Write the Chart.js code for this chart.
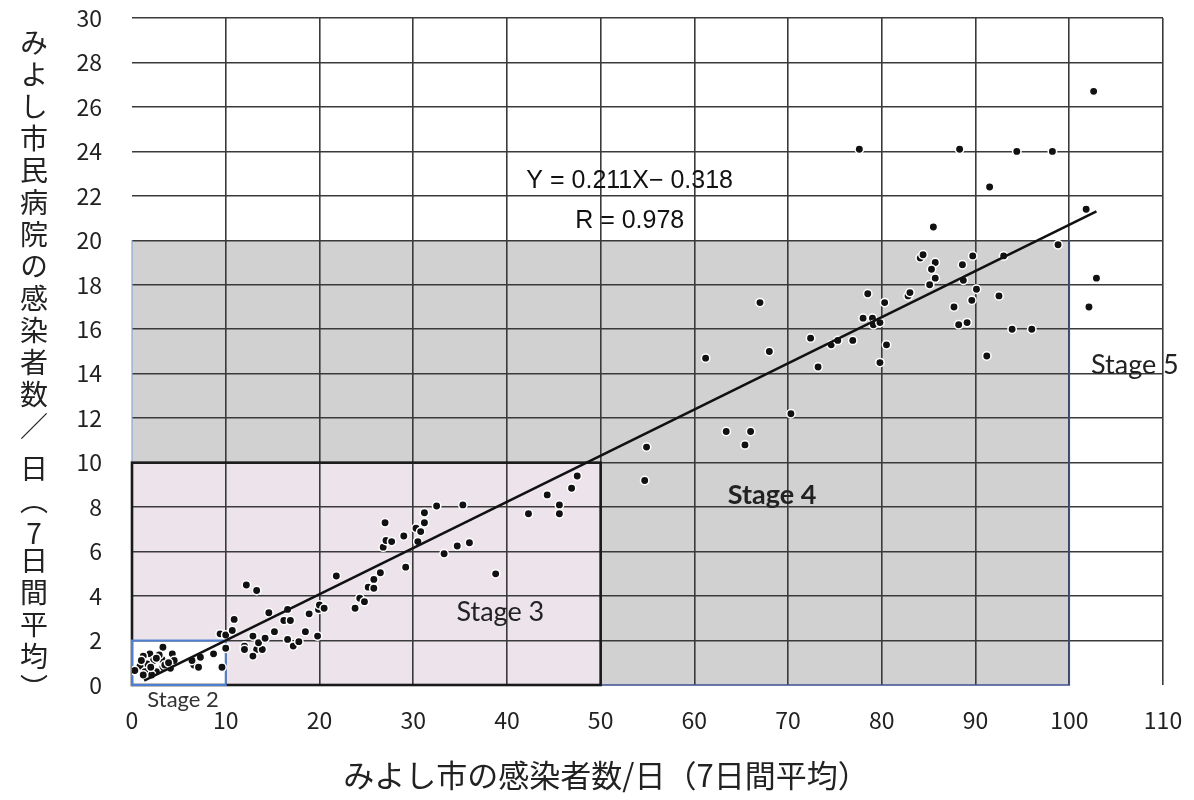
<!DOCTYPE html>
<html lang="ja">
<head>
<meta charset="utf-8">
<title>みよし市 感染者数 相関</title>
<script src="https://cdn.jsdelivr.net/npm/chart.js@4.4.1/dist/chart.umd.min.js"></script>
<style>
  body { margin: 0; background: #fff; }
  #wrap { position: relative; width: 1194px; height: 800px; }
  #yTitle {
    position: absolute; left: 20px; top: 28px;
    writing-mode: vertical-rl; text-orientation: mixed;
    font-family: "Noto Sans CJK JP", sans-serif; font-size: 28px;
    letter-spacing: 4px; color: #222; line-height: 1;
  }
  #yTitle .up { text-combine-upright: all; }
</style>
</head>
<body>
<div id="wrap">
  <canvas id="stageChart"></canvas>
  <div id="yTitle">みよし市民病院の感染者数／ 日（<span class="up">7</span>日間平均）</div>
</div>
<script>
// みよし市の感染者数/日 (x) と みよし市民病院の感染者数/日 (y)
const cityCases = [
  3.3, 1.9, 1.2, 2.3, 3.2, 4.3, 4.5, 1.6, 0.85, 3.3, 4.1, 0.3, 1.4, 2.6, 2.1, 3.5, 2.9, 1.2, 2.6, 3.9, 1.0, 2.0,
  6.6, 7.1, 6.4, 7.3, 8.7, 9.6, 9.4, 10.0, 10.0,
  10.9, 10.7, 12.2, 13.3, 12.9, 12.0, 12.0, 13.3, 13.9, 12.9, 13.5, 14.2, 14.6, 15.2, 16.2, 16.9, 16.6, 16.6,
  17.2, 17.8, 18.5, 18.9, 19.8, 19.9, 20.0, 20.5, 21.8,
  23.8, 24.3, 24.8, 25.2, 25.8, 25.8, 26.5, 26.8, 27.1, 27.7, 27.0, 29.0, 29.2, 30.3, 30.5, 30.8, 31.2, 31.2,
  32.5, 33.3, 34.7, 35.3, 36.0, 38.8, 42.3, 44.3, 45.6, 45.6, 46.9, 47.5,
  54.9, 54.7, 61.2, 63.4, 66.0, 65.4, 67.0, 68.0, 70.3, 72.4, 73.2, 74.6, 75.3, 76.9,
  77.6, 88.3, 94.4, 98.2, 91.5, 101.8, 85.5, 98.8, 102.9, 102.1, 84.1, 84.4, 85.7, 85.3, 85.7, 85.1, 88.6, 89.7,
  93.0, 88.7, 90.1, 89.6, 92.5, 87.7, 88.2, 89.1, 93.9, 96.0, 91.2, 78.5, 82.8, 83.0, 80.3, 78.0, 79.0, 79.1,
  79.8, 80.5, 79.8, 102.6
];
const hospitalCases = [
  1.7, 1.4, 1.3, 1.1, 1.15, 1.4, 1.1, 0.95, 0.85, 0.8, 0.75, 0.65, 0.6, 0.6, 0.45, 0.9, 1.35, 0.45, 1.2, 1.0, 1.1, 0.8,
  0.9, 0.8, 1.1, 1.25, 1.4, 0.8, 2.3, 1.65, 2.25,
  2.95, 2.45, 4.5, 4.25, 2.2, 1.75, 1.6, 1.6, 1.6, 1.3, 1.9, 2.1, 3.25, 2.4, 2.9, 2.9, 3.4, 2.05,
  1.75, 1.95, 2.4, 3.2, 2.2, 3.4, 3.6, 3.45, 4.9,
  3.45, 3.9, 3.75, 4.4, 4.35, 4.75, 5.05, 6.2, 6.5, 6.45, 7.3, 6.7, 5.3, 7.05, 6.45, 6.9, 7.3, 7.75,
  8.05, 5.9, 6.25, 8.1, 6.4, 5.0, 7.7, 8.55, 8.1, 7.7, 8.85, 9.4,
  10.7, 9.2, 14.7, 11.4, 11.4, 10.8, 17.2, 15.0, 12.2, 15.6, 14.3, 15.3, 15.5, 15.5,
  24.1, 24.1, 24.0, 24.0, 22.4, 21.4, 20.6, 19.8, 18.3, 17.0, 19.2, 19.35, 19.0, 18.7, 18.3, 18.0, 18.9, 19.3,
  19.3, 18.2, 17.8, 17.3, 17.5, 17.0, 16.2, 16.3, 16.0, 16.0, 14.8, 17.6, 17.5, 17.65, 17.2, 16.5, 16.5, 16.2,
  16.3, 15.3, 14.5, 26.7
];

// 回帰直線 Y = 0.211X - 0.318 (端点は図から読み取り)
const trendX = [1.3, 102.9];
const trendY = [0.2, 21.3];

// ステージ区分の上限 (Stage 2, 3, 4)
const stageNames = ['Stage 2', 'Stage 3', 'Stage 4', 'Stage 5'];
const stageMaxX = [10, 50, 100];
const stageMaxY = [2, 10, 20];

const xTicks = [0, 10, 20, 30, 40, 50, 60, 70, 80, 90, 100, 110];
const yTicks = [0, 2, 4, 6, 8, 10, 12, 14, 16, 18, 20, 22, 24, 26, 28, 30];

const xTitle = 'みよし市の感染者数/日（7日間平均）';
const equationText = 'Y = 0.211X\u2212 0.318';
const corrText = 'R = 0.978';

document.addEventListener('DOMContentLoaded', function () {
    const ctx = document.getElementById('stageChart');
    if (!ctx) return;

    const rectOf = (chart, x1, y1) => {
        const { x, y } = chart.scales;
        const left = x.getPixelForValue(0), right = x.getPixelForValue(x1);
        const top = y.getPixelForValue(y1), bottom = y.getPixelForValue(0);
        return { left, right, top, bottom, w: right - left, h: bottom - top };
    };

    const stageZones = {
        id: 'stageZones',
        beforeDraw(chart) {
            const c = chart.ctx;
            const g = rectOf(chart, stageMaxX[2], stageMaxY[2]);
            const p = rectOf(chart, stageMaxX[1], stageMaxY[1]);
            const s = rectOf(chart, stageMaxX[0], stageMaxY[0]);
            c.save();
            c.fillStyle = '#d1d1d1';
            c.fillRect(g.left, g.top, g.w, g.h);
            c.fillStyle = '#ece4ea';
            c.fillRect(p.left, p.top, p.w, p.h);
            c.fillStyle = '#ffffff';
            c.fillRect(s.left, s.top, s.w, s.h);
            c.restore();
        },
        beforeDatasetsDraw(chart) {
            const c = chart.ctx;
            const g = rectOf(chart, stageMaxX[2], stageMaxY[2]);
            const p = rectOf(chart, stageMaxX[1], stageMaxY[1]);
            const s = rectOf(chart, stageMaxX[0], stageMaxY[0]);
            c.save();
            // Stage 4 outline (blue right / bottom edges)
            c.strokeStyle = '#3d4f93';
            c.lineWidth = 1.6;
            c.beginPath();
            c.moveTo(g.right, g.top);
            c.lineTo(g.right, g.bottom);
            c.lineTo(g.left, g.bottom);
            c.stroke();
            c.strokeStyle = '#8ea6da';
            c.lineWidth = 1.2;
            c.beginPath();
            c.moveTo(g.left, g.bottom);
            c.lineTo(g.left, g.top);
            c.stroke();
            // Stage 3 outline
            c.strokeStyle = '#1a1a1a';
            c.lineWidth = 2.6;
            c.strokeRect(p.left, p.top, p.w, p.h);
            // Stage 2 outline
            c.strokeStyle = '#4f7fd0';
            c.lineWidth = 2;
            c.strokeRect(s.left, s.top, s.w, s.h);
            c.restore();
        },
        afterDraw(chart) {
            const c = chart.ctx;
            const { x, y } = chart.scales;
            const put = (text, vx, vy, font, color) => {
                c.font = font;
                c.fillStyle = color;
                c.fillText(text, x.getPixelForValue(vx), y.getPixelForValue(vy));
            };
            c.save();
            c.textAlign = 'center';
            c.textBaseline = 'middle';
            put(equationText, 53.1, 22.65, '25px "Liberation Sans", Arial, sans-serif', '#111');
            put(corrText, 53.1, 20.85, '25px "Liberation Sans", Arial, sans-serif', '#111');
            put(stageNames[3], 107.0, 14.4, '27px Lato, "Open Sans", sans-serif', '#222');
            put(stageNames[2], 68.3, 8.55, 'bold 27px Lato, "Open Sans", sans-serif', '#222');
            put(stageNames[1], 39.3, 3.25, '27px Lato, "Open Sans", sans-serif', '#222');
            put(stageNames[0], 5.45, -0.67, '22px Lato, "Open Sans", sans-serif', '#333');
            // x axis title (sits a little left of the plot centre)
            c.font = '31px "Noto Sans CJK JP", sans-serif';
            c.fillStyle = '#222';
            c.fillText(xTitle, 606, 775);
            c.restore();
        }
    };

    const tickFont = { family: '"Noto Sans CJK JP", sans-serif', size: 23 };
    const gridColor = (c) => (c.tick && c.tick.value === 0) ? 'rgba(0,0,0,0)' : '#3a3a3a';

    const stageChart = new Chart(ctx, {
        type: 'scatter',
        data: {
            datasets: [{
                label: '感染者数',
                data: cityCases.map((v, i) => ({ x: v, y: hospitalCases[i] })),
                backgroundColor: '#111',
                borderColor: '#ffffff',
                borderWidth: 1.5,
                pointRadius: 4.2,
                order: 1
            }, {
                type: 'line',
                label: '近似直線',
                data: trendX.map((v, i) => ({ x: v, y: trendY[i] })),
                borderColor: '#111',
                borderWidth: 2.6,
                pointRadius: 0,
                fill: false,
                order: 0
            }]
        },
        options: {
            responsive: true,
            maintainAspectRatio: false,
            animation: false,
            layout: { padding: { top: 18, right: 31, bottom: 0, left: 0 } },
            plugins: {
                legend: { display: false },
                tooltip: { enabled: false }
            },
            scales: {
                x: {
                    type: 'linear',
                    min: 0,
                    max: 110,
                    afterBuildTicks: (s) => { s.ticks = xTicks.map(v => ({ value: v })); },
                    afterFit: (s) => { s.height = 115; s.paddingLeft = 0; s.paddingRight = 0; },
                    grid: { color: gridColor, lineWidth: 1.6, drawTicks: false },
                    border: { display: false },
                    ticks: { font: tickFont, color: '#222', padding: 21, maxRotation: 0 },
                    title: { display: false }
                },
                y: {
                    type: 'linear',
                    min: 0,
                    max: 30,
                    afterBuildTicks: (s) => { s.ticks = yTicks.map(v => ({ value: v })); },
                    afterFit: (s) => { s.width = 132; s.paddingTop = 0; s.paddingBottom = 0; },
                    grid: { color: gridColor, lineWidth: 1.6, drawTicks: false },
                    border: { display: false },
                    ticks: { font: tickFont, color: '#222', padding: 30 }
                }
            }
        },
        plugins: [stageZones]
    });
});
</script>
</body>
</html>
